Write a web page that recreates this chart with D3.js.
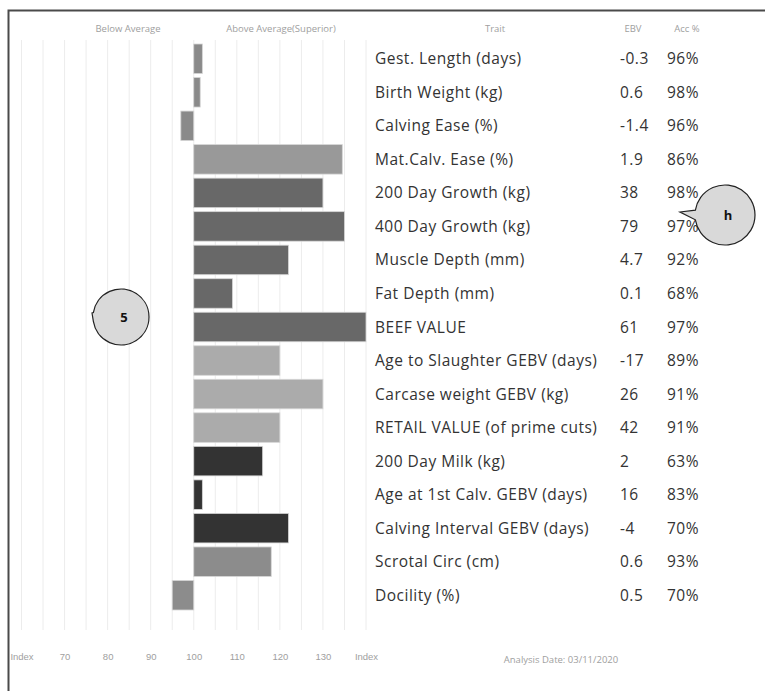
<!DOCTYPE html>
<html>
<head>
<meta charset="utf-8">
<script src="https://cdn.jsdelivr.net/npm/d3@7"></script>
<style>
  body { margin: 0; background: #fff; }
  svg { display: block; font-family: "Open Sans", sans-serif; }
</style>
</head>
<body>
<div id="chart"></div>
<script>
// traits, index values (bar ends), EBV and accuracy
const traits = ["Gest. Length (days)", "Birth Weight (kg)", "Calving Ease (%)", "Mat.Calv. Ease (%)",
  "200 Day Growth (kg)", "400 Day Growth (kg)", "Muscle Depth (mm)", "Fat Depth (mm)", "BEEF VALUE",
  "Age to Slaughter GEBV (days)", "Carcase weight GEBV (kg)", "RETAIL VALUE (of prime cuts)",
  "200 Day Milk (kg)", "Age at 1st Calv. GEBV (days)", "Calving Interval GEBV (days)",
  "Scrotal Circ (cm)", "Docility (%)"];
const indexValues = [102, 101.5, 97, 134.5, 130, 135, 122, 109, 140, 120, 130, 120, 116, 102, 122, 118, 95];
const ebv = ["-0.3", "0.6", "-1.4", "1.9", "38", "79", "4.7", "0.1", "61", "-17", "26", "42", "2", "16", "-4", "0.6", "0.5"];
const acc = ["96%", "98%", "96%", "86%", "98%", "97%", "92%", "68%", "97%", "89%", "91%", "91%", "63%", "83%", "70%", "93%", "70%"];
const groups = ["a", "a", "a", "b", "c", "c", "c", "c", "c", "d", "d", "d", "e", "e", "e", "f", "f"];
const tickValues = [60, 70, 80, 90, 100, 110, 120, 130, 140];
const gridValues = d3.range(60, 141, 5);

const width = 765;
const height = 691;

const svg = d3.select("#chart")
  .append("svg")
  .attr("width", width)
  .attr("height", height);

// frame (top and left edges visible)
svg.append("path")
  .attr("d", `M8.5,${height} V10.5 H${width}`)
  .attr("fill", "none")
  .attr("stroke", "#4a4a4a")
  .attr("stroke-width", 2);

const x = d3.scaleLinear().domain([60, 140]).range([21.5, 366]);
const y = d3.scaleBand().domain(traits).range([42, 612]).paddingInner(0.12).paddingOuter(0.06);

const colour = d3.scaleOrdinal()
  .domain(["a", "b", "c", "d", "e", "f"])
  .range(["#8a8a8a", "#999999", "#686868", "#ababab", "#333333", "#8c8c8c"]);

// gridlines
svg.append("g")
  .selectAll("line")
  .data(gridValues)
  .join("line")
  .attr("x1", d => x(d)).attr("x2", d => x(d))
  .attr("y1", 40).attr("y2", 630)
  .attr("stroke", "#ececec")
  .attr("stroke-width", 1);

// bars from the 100 baseline
svg.append("g")
  .selectAll("rect")
  .data(traits)
  .join("rect")
  .attr("x", (d, i) => x(Math.min(100, indexValues[i])))
  .attr("y", d => y(d))
  .attr("width", (d, i) => Math.abs(x(indexValues[i]) - x(100)))
  .attr("height", y.bandwidth())
  .attr("fill", (d, i) => colour(groups[i]))
  .attr("stroke", "#d6d6d6")
  .attr("stroke-width", 0.8);

// bottom axis
const xAxis = d3.axisBottom(x)
  .tickValues(tickValues)
  .tickSize(0)
  .tickFormat(d => (d === 60 || d === 140) ? "Index" : d);

const axisG = svg.append("g")
  .attr("transform", "translate(0, 650)")
  .call(xAxis);
axisG.select(".domain").remove();
axisG.selectAll("text")
  .attr("fill", "#a0a0a0")
  .style("font-size", "9.5px");

// header labels
const header = svg.append("g")
  .attr("fill", "#a0a0a0")
  .style("font-size", "9.5px")
  .attr("text-anchor", "middle");
header.append("text").attr("x", 128).attr("y", 32).text("Below Average");
header.append("text").attr("x", 281).attr("y", 32).text("Above Average(Superior)");
header.append("text").attr("x", 495).attr("y", 32).text("Trait");
header.append("text").attr("x", 633).attr("y", 32).text("EBV");
header.append("text").attr("x", 687).attr("y", 32).text("Acc %");

svg.append("text")
  .attr("x", 561).attr("y", 663)
  .attr("text-anchor", "middle")
  .attr("fill", "#a0a0a0")
  .style("font-size", "9.5px")
  .text("Analysis Date: 03/11/2020");

// table rows
const rows = svg.append("g")
  .selectAll("g")
  .data(traits)
  .join("g")
  .attr("transform", d => `translate(0, ${y(d) + y.bandwidth() / 2 + 5.5})`)
  .attr("fill", "#333")
  .style("font-size", "15.5px")
  .style("letter-spacing", "0.5px");

rows.append("text")
  .attr("class", "trait")
  .attr("x", 375)
  .text(d => d);

rows.append("text")
  .attr("x", function(d, i) {
    const w = this.parentNode.querySelector(".trait").getComputedTextLength();
    return Math.max(620, 375 + w + 3);
  })
  .text((d, i) => ebv[i]);

rows.append("text")
  .attr("x", 667)
  .text((d, i) => acc[i]);

// callout bubbles
function bubble(cx, cy, r, tx, ty, label) {
  const g = svg.append("g");
  const a = Math.PI - 0.16, b = Math.PI + 0.16;
  const path = d3.path();
  path.moveTo(cx + r * Math.cos(b), cy + r * Math.sin(b));
  path.arc(cx, cy, r, b, a + 2 * Math.PI);
  path.lineTo(tx, ty);
  path.closePath();
  g.append("path")
    .attr("d", path.toString())
    .attr("fill", "#d9d9d9")
    .attr("stroke", "#222")
    .attr("stroke-width", 1.2);
  g.append("text")
    .attr("x", cx + 3).attr("y", cy + 5)
    .attr("text-anchor", "middle")
    .attr("fill", "#111")
    .style("font-size", "13px")
    .style("font-weight", "bold")
    .text(label);
}

bubble(121, 317, 28, 92, 313, "5");
bubble(725, 215, 30, 680, 212, "h");
</script>
</body>
</html>
